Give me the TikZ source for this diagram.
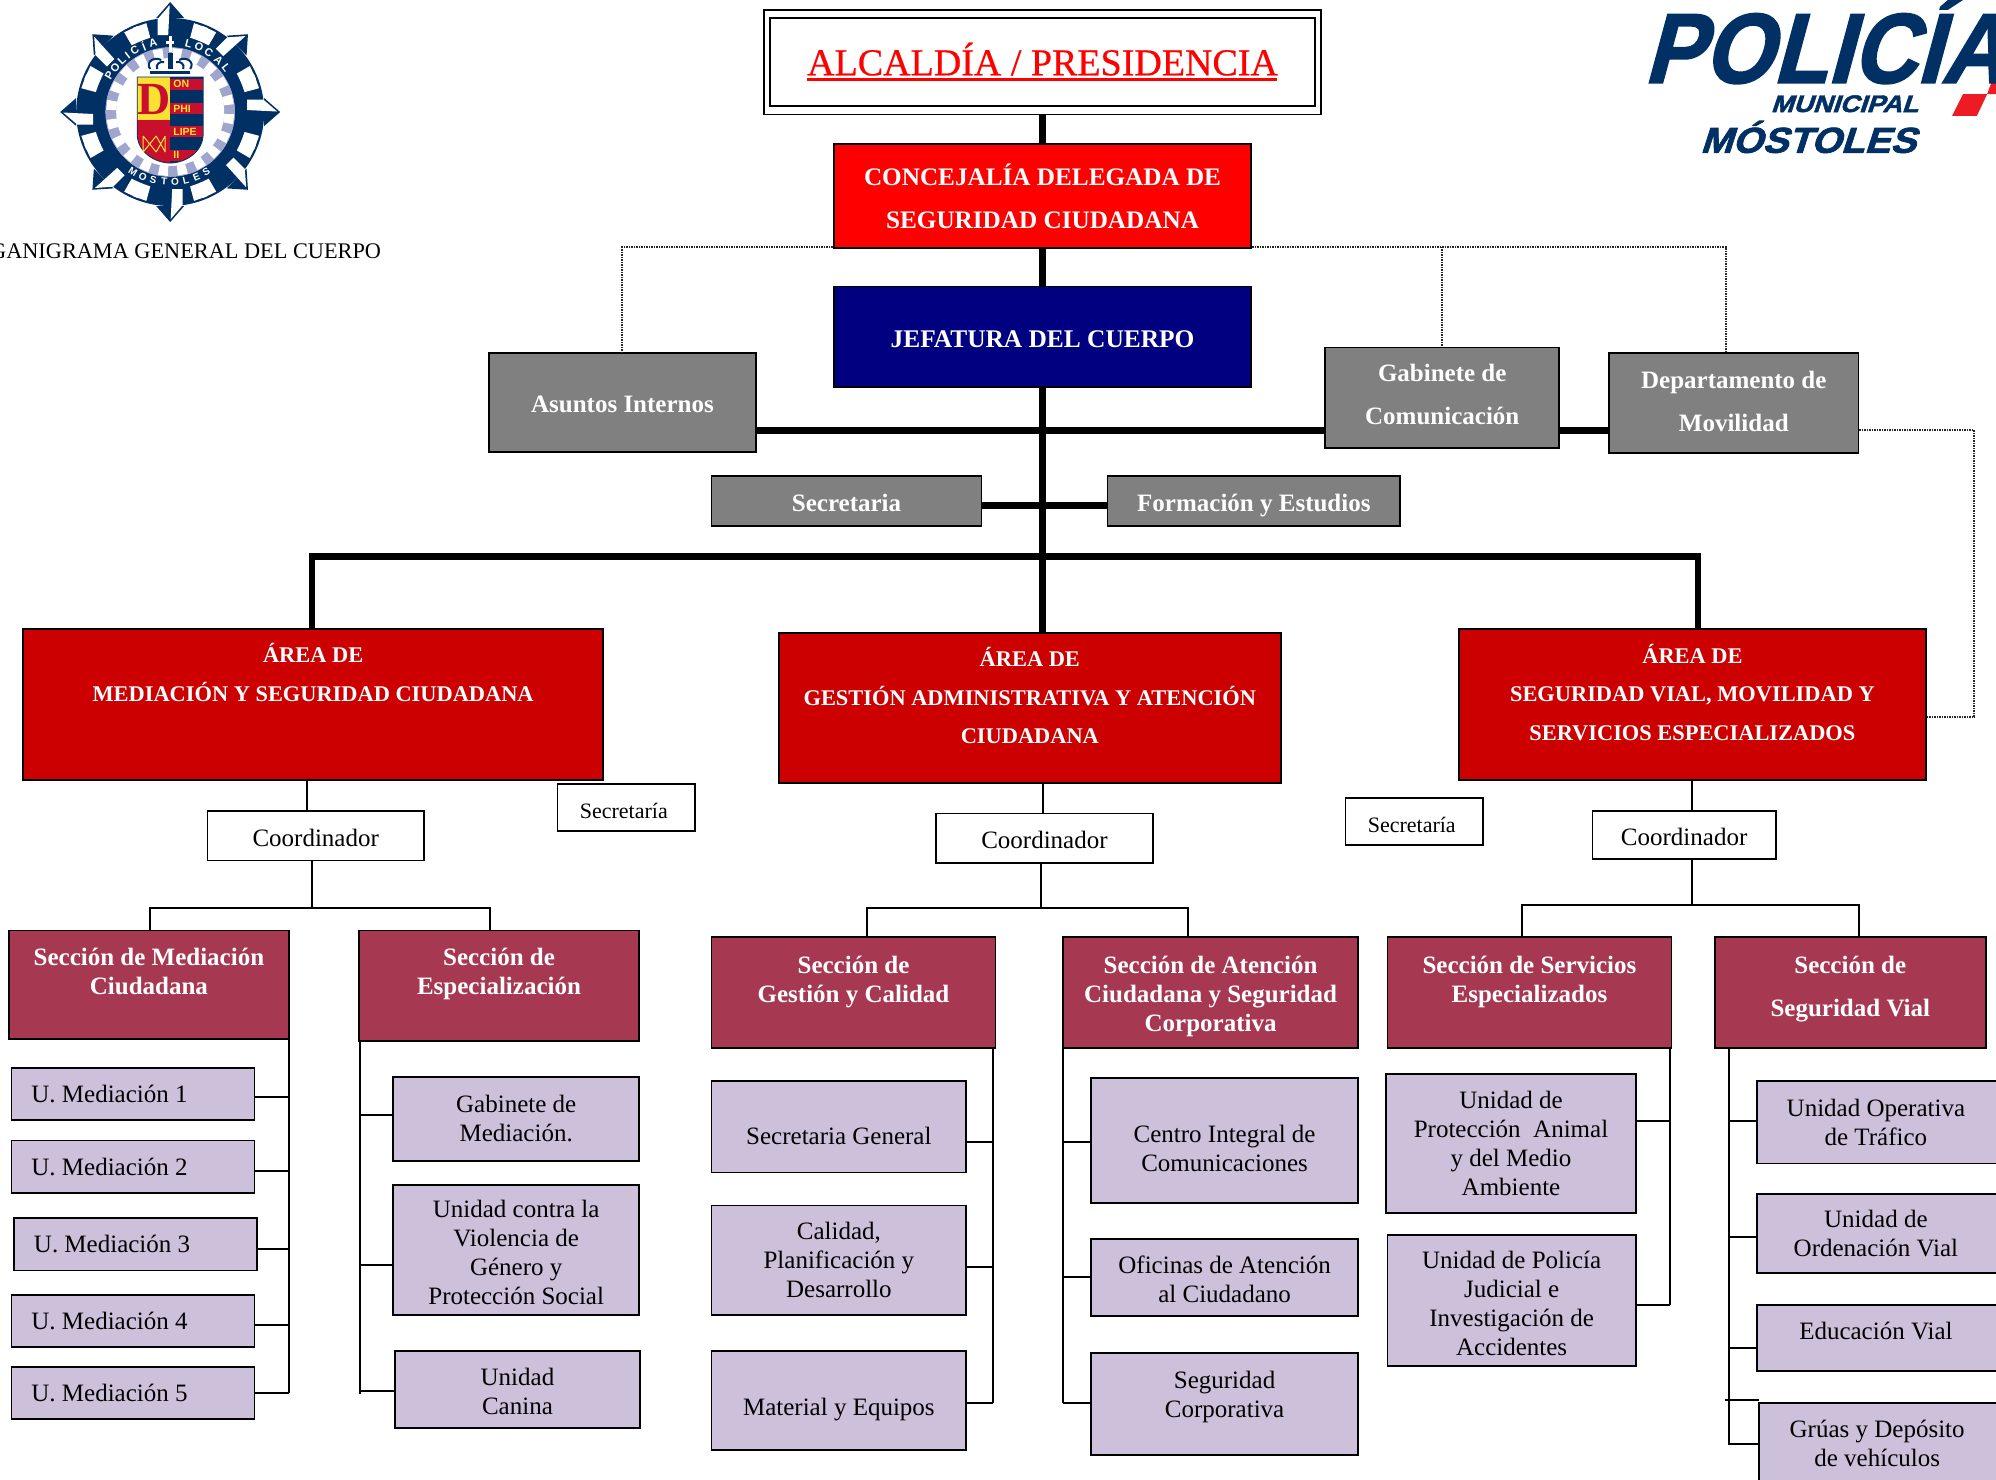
\documentclass[tikz,border=0pt]{standalone}
\usepackage{fontspec}
\setmainfont{Liberation Serif}
\newfontfamily\arialf{Liberation Sans}
\newfontfamily\polf[FakeSlant=0.3,FakeBold=2]{Liberation Sans}
\newfontfamily\alcf[FakeBold=0.6]{Liberation Serif}
\definecolor{navyL}{RGB}{0,48,100}
\definecolor{navyB}{RGB}{0,0,128}
\definecolor{redA}{RGB}{204,0,0}
\definecolor{redC}{RGB}{255,0,0}
\definecolor{greyB}{RGB}{128,128,128}
\definecolor{wineS}{RGB}{166,56,82}
\definecolor{lilacU}{RGB}{204,192,218}
\definecolor{ringL}{RGB}{160,165,205}
\definecolor{shRed}{RGB}{200,16,46}
\definecolor{shYel}{RGB}{250,225,50}
\definecolor{logoRed}{RGB}{237,28,36}
\tikzset{
 basebox/.style={draw=black,line width=1.8pt,align=center,inner sep=0pt},
 single/.style={text height=21pt,text depth=0pt},
 greybox/.style={basebox,fill=greyB,text=white,font=\fontsize{25}{43}\selectfont\bfseries},
 areabox/.style={basebox,fill=redA,text=white,font=\fontsize{22.4}{38.5}\selectfont\bfseries},
 whitebox/.style={basebox,single,fill=white,font=\fontsize{25}{30}\selectfont},
 secbox/.style={basebox,fill=wineS,text=white,font=\fontsize{25}{29}\selectfont\bfseries},
 unitbox/.style={basebox,fill=lilacU,font=\fontsize{25}{29}\selectfont},
 heavy/.style={line width=6.5pt,draw=black},
 thin line/.style={line width=2pt,draw=black},
 dots/.style={line width=2pt,draw=black!85,dash pattern=on 1.5pt off 1pt},
}
% \bx{name}{x0}{y0}{x1}{y1}{style}{text}
\newcommand{\bx}[7]{%
 \pgfmathsetmacro{\bxw}{(#4-#2)*1.273}%
 \pgfmathsetmacro{\bxh}{(#5-#3)*1.273}%
 \node[#6,minimum width=\bxw pt,minimum height=\bxh pt] (#1) at ({(#2+#4)/2},{(#3+#5)/2}) {#7};}
% text block moved vertically inside its box
\newcommand{\upt}[2]{\raisebox{#1pt}[0pt][0pt]{\makebox[0pt]{\parbox{22cm}{\centering #2}}}}
\begin{document}
\begin{tikzpicture}[x=1.27296pt,y=-1.27296pt]
\useasboundingbox (0,0) rectangle (1568,1162.6);
\clip (0,0) rectangle (1568,1162.6);
\fill[white] (0,0) rectangle (1568,1162.6);

% ---------- left emblem ----------
\begin{scope}[shift={(133.7,88)},x=1pt,y=-1pt]
 \fill[navyL] (0,0) circle (94);
 \foreach \a in {0,45,...,315}{
  \begin{scope}[rotate=\a]
   \fill[navyL] (94,14) -- (110,0) -- (94,-14) -- cycle;
   \fill[white] (77,-2) -- (107,-.5) -- (93,-12.5) -- (77,-12.5) -- cycle;
   \fill[white] (15:77) -- (15:92) -- (24:92) -- (24:77) -- cycle;
   \fill[white] (-24:77) -- (-24:92) -- (-15:92) -- (-15:77) -- cycle;
  \end{scope}}
 \fill[ringL] (0,0) circle (65);
 \foreach \a in {0,18,...,342}{\fill[white] (\a+2:54) -- (\a+2:64) -- (\a+11:64) -- (\a+11:54) -- cycle;}
 \fill[white] (0,0) circle (54);
 \fill[navyL,even odd rule] (0,0) circle (76) circle (65);
 \foreach \ch/\ang in {P/149,O/141,L/133,I/127,C/120,Í/112,A/104,L/75,O/66,C/57,A/47,L/38}{
  \node[text=white,font=\arialf\bfseries\fontsize{11}{11}\selectfont,rotate=\ang-90,inner sep=0pt] (txl\ang) at (-\ang:71) {\ch};}
 \foreach \ch/\ang in {M/238,O/247,S/256,T/265,O/274,L/283,E/292,S/301}{
  \node[text=white,font=\arialf\bfseries\fontsize{10}{10}\selectfont,rotate=\ang+90,inner sep=0pt] (txm\ang) at (-\ang:70) {\ch};}
 % cross
 \fill[white] (-1.5,-76) rectangle (1.5,-60);
 \fill[white] (-4,-71) rectangle (4,-68);
 % crown
 \draw[navyL,line width=2pt] (-20,-43) .. controls (-25,-50) and (-16,-56) .. (-9,-52);
 \draw[navyL,line width=2pt] (20,-43) .. controls (25,-50) and (16,-56) .. (9,-52);
 \draw[navyL,line width=2pt] (-13,-43) .. controls (-15,-48) and (-10,-51) .. (-6,-50);
 \draw[navyL,line width=2pt] (13,-43) .. controls (15,-48) and (10,-51) .. (6,-50);
 \fill[navyL] (-2.5,-59) rectangle (2.5,-43);
 \fill[navyL] (-20,-41) rectangle (20,-38);
 % shield
 \begin{scope}
  \path[clip] (-33,-35) -- (33,-35) -- (33,22) .. controls (33,40) and (15,51) .. (0,51) .. controls (-15,51) and (-33,40) .. (-33,22) -- cycle;
  \fill[shYel] (-33,-35) rectangle (0,8);
  \fill[shRed] (-33,8) rectangle (0,52);
  \fill[navyL] (0,-35) rectangle (33,52);
  \foreach \yy in {-33,-9,14,38}{\fill[shRed] (0,\yy) rectangle (33,\yy+11);}
 \end{scope}
 \draw[navyL,line width=.8pt] (-33,-35) -- (33,-35) -- (33,22) .. controls (33,40) and (15,51) .. (0,51) .. controls (-15,51) and (-33,40) .. (-33,22) -- cycle;
 \node[text=shRed,font=\fontsize{46}{46}\selectfont\bfseries,inner sep=0pt] (shD) at (-16.5,-13) {D};
 \draw[shYel,line width=1pt] (-27,24) -- (-14,40) (-27,40) -- (-14,24) (-14,24) -- (-5,40) (-14,40) -- (-5,24) (-27,24) -- (-27,40) (-5,24) -- (-5,40);
 \foreach \t/\yy/\i in {ON/-28/a,PHI/-3/b,LIPE/20/c,II/43/d}{
  \node[text=shYel,font=\arialf\bfseries\fontsize{10.5}{11}\selectfont,anchor=west,inner sep=0pt] (sh\i) at (3,\yy) {\t};}
\end{scope}
\node[anchor=east,inner sep=0pt,font=\fontsize{22.3}{25}\selectfont] (title) at (299.5,197.5) {GANIGRAMA GENERAL DEL CUERPO};

% ---------- right logo ----------
\fill[logoRed] (1533.5,91) -- (1542,74) -- (1561,74) -- (1553,91) -- cycle;
\fill[logoRed] (1561,74) -- (1568,55) -- (1568,74) -- cycle;
\node[anchor=base west,inner sep=0pt,text=navyL,font=\polf\bfseries\fontsize{99}{99}\selectfont] (polA) at (1291,65) {\scalebox{.9}[1]{POLICÍA}};
\node[anchor=base east,inner sep=0pt,text=navyL,font=\polf\bfseries\fontsize{24}{24}\selectfont] (polB) at (1507,88) {\scalebox{1.12}[1]{MUNICIPAL}};
\node[anchor=base east,inner sep=0pt,text=navyL,font=\polf\bfseries\fontsize{36}{36}\selectfont] (polC) at (1505,120) {\scalebox{1.07}[1]{MÓSTOLES}};

% ---------- top ---------- 
\bx{alc}{600}{8}{1038}{90}{basebox,fill=white}{}
\bx{alci}{605}{14}{1033}{83}{basebox,fill=white,font=\alcf\fontsize{38}{40}\selectfont,text=redC}{\rlap{\rule[-5.5pt]{470pt}{2.4pt}}ALCALDÍA / PRESIDENCIA}
\bx{conc}{655}{113}{983}{195}{basebox,fill=redC,text=white,font=\fontsize{25.2}{43}\selectfont\bfseries}{CONCEJALÍA DELEGADA DE\\SEGURIDAD CIUDADANA}
\bx{jef}{655}{225}{983}{304}{basebox,single,fill=navyB,text=white,font=\fontsize{25.4}{30}\selectfont\bfseries}{JEFATURA DEL CUERPO}
\bx{asun}{384}{277}{594}{355}{greybox,single}{Asuntos Internos}
\bx{gabc}{1041}{273}{1225}{352}{greybox}{\upt{-3.1}{Gabinete de\\Comunicación}}
\bx{dept}{1264}{277}{1460}{356}{greybox}{\upt{-4.5}{Departamento de\\Movilidad}}
\bx{secr}{559}{374}{771}{413}{greybox,single}{Secretaria}
\bx{form}{870}{374}{1100}{413}{greybox,single}{Formación y Estudios}

% ---------- areas ----------
\bx{ar1}{18}{494}{474}{613}{areabox}{\upt{27}{ÁREA DE\\MEDIACIÓN Y SEGURIDAD CIUDADANA}}
\bx{ar2}{612}{497}{1006}{615}{areabox}{\upt{7}{ÁREA DE\\GESTIÓN ADMINISTRATIVA Y ATENCIÓN\\CIUDADANA}}
\bx{ar3}{1146}{494}{1513}{613}{areabox}{\upt{7}{ÁREA DE\\SEGURIDAD VIAL, MOVILIDAD Y\\SERVICIOS ESPECIALIZADOS}}
\bx{sc1}{438}{616}{546}{653}{whitebox,font=\fontsize{22}{26}\selectfont}{\hspace*{-5pt}Secretaría}
\bx{sc2}{1057}{627}{1165}{664}{whitebox,font=\fontsize{22}{26}\selectfont}{\hspace*{-5pt}Secretaría}
\bx{co1}{163}{637}{333}{676}{whitebox}{Coordinador}
\bx{co2}{735}{639}{906}{678}{whitebox}{Coordinador}
\bx{co3}{1251}{637}{1395}{675}{whitebox}{Coordinador}

% ---------- sections ----------
\bx{s1}{7}{731}{227}{816}{secbox}{\upt{7}{Sección de Mediación\\Ciudadana}}
\bx{s2}{282}{731}{502}{818}{secbox}{\upt{5.6}{Sección de\\Especialización}}
\bx{s3}{559}{736}{782}{823}{secbox}{\upt{4.2}{Sección de\\Gestión y Calidad}}
\bx{s4}{835}{736}{1067}{823}{secbox}{\upt{-10}{Sección de Atención\\Ciudadana y Seguridad\\Corporativa}}
\bx{s5}{1090}{736}{1313}{823}{secbox}{\upt{4.2}{Sección de Servicios\\Especializados}}
\bx{s6}{1347}{736}{1560}{823}{secbox,font=\fontsize{25}{43}\selectfont\bfseries}{\upt{-3}{Sección de\\Seguridad Vial}}

% ---------- units ----------
\bx{m1}{9}{839}{200}{880}{unitbox,single,text height=17pt}{\hspace*{-47pt}U. Mediación 1}
\bx{m2}{9}{896}{200}{937}{unitbox,single,text height=17pt}{\hspace*{-47pt}U. Mediación 2}
\bx{m3}{11}{957}{202}{998}{unitbox,single,text height=17pt}{\hspace*{-47pt}U. Mediación 3}
\bx{m4}{9}{1017}{200}{1058}{unitbox,single,text height=17pt}{\hspace*{-47pt}U. Mediación 4}
\bx{m5}{9}{1074}{200}{1115}{unitbox,single,text height=17pt}{\hspace*{-47pt}U. Mediación 5}
\bx{gm}{309}{846}{502}{912}{unitbox}{Gabinete de\\Mediación.}
\bx{uv}{309}{931}{502}{1033}{unitbox}{\upt{-8.5}{Unidad contra la\\Violencia de\\Género y\\Protección Social}}
\bx{uc}{310}{1061}{503}{1122}{unitbox}{\upt{-8.6}{Unidad\\Canina}}
\bx{sg}{559}{849}{759}{921}{unitbox}{\upt{-16}{Secretaria General}}
\bx{cp}{559}{947}{759}{1033}{unitbox}{Calidad,\\Planificación y\\Desarrollo}
\bx{me}{559}{1061}{759}{1139}{unitbox}{\upt{-15}{Material y Equipos}}
\bx{ci}{857}{847}{1067}{945}{unitbox}{\upt{-14.3}{Centro Integral de\\Comunicaciones}}
\bx{oa}{857}{973}{1067}{1034}{unitbox}{\upt{-8.6}{Oficinas de Atención\\al Ciudadano}}
\bx{sc}{857}{1063}{1067}{1143}{unitbox}{\upt{1}{Seguridad\\Corporativa}}
\bx{pa}{1089}{844}{1285}{953}{unitbox}{Unidad de\\Protección~ Animal\\y del Medio\\Ambiente}
\bx{pj}{1090}{970}{1285}{1073}{unitbox}{\upt{-9}{Unidad de Policía\\Judicial e\\Investigación de\\Accidentes}}
\bx{ot}{1380}{849}{1572}{914}{unitbox}{\hspace*{-6pt}Unidad Operativa\\\hspace*{-6pt}de Tráfico}
\bx{ov}{1380}{938}{1572}{1000}{unitbox}{\hspace*{-6pt}Unidad de\\\hspace*{-6pt}Ordenación Vial}
\bx{ev}{1380}{1025}{1572}{1077}{unitbox}{\upt{.3}{\hspace*{-6pt}Educación Vial}}
\bx{gr}{1382}{1102}{1572}{1170}{unitbox}{\upt{-3.5}{\hspace*{-6pt}Grúas y Depósito\\\hspace*{-6pt}de vehículos}}

% ---------- connectors ----------
\coordinate (tA) at (819,338);
\coordinate (tB) at (819,397);
\coordinate (tC) at (819,437);
\coordinate (tD) at (819,497);
\coordinate (tL) at (245,437);
\coordinate (tR) at (1334,437);
\draw[heavy] (alc.south) -- (conc.north);
\draw[heavy] (conc.south) -- (jef.north);
\draw[heavy] (jef.south) -- (tD);
\draw[heavy] (asun.east |- tA) -- (gabc.west |- tA);
\draw[heavy] (gabc.east |- tA) -- (dept.west |- tA);
\draw[heavy] (secr.east |- tB) -- (form.west |- tB);
\draw[heavy,line cap=rect] (tL) -- (tR);
\draw[heavy] (tL) -- (tL |- ar1.north);
\draw[heavy] (tR) -- (tR |- ar3.north);

\coordinate (dL) at (489,194);
\coordinate (dC) at (1133,194);
\coordinate (dR) at (1356,194);
\coordinate (dE) at (1551,338);
\coordinate (dF) at (1551,563);
\draw[dots] (conc.west |- dL) -- (dL) -- (dL |- asun.north);
\draw[dots] (conc.east |- dC) -- (dR) -- (dR |- dept.north);
\draw[dots] (dC) -- (dC |- gabc.north);
\draw[dots] (dept.east |- dE) -- (dE) -- (dF) -- (ar3.east |- dF);

\draw[thin line] (241,613) -- (241,637);
\draw[thin line] (819,615) -- (819,639);
\draw[thin line] (1329,613) -- (1329,637);
\coordinate (h1) at (245,713);
\coordinate (h2) at (818,713);
\coordinate (h3) at (1329,711);
\draw[thin line] (h1 |- co1.south) -- (h1);
\draw[thin line] (h2 |- co2.south) -- (h2);
\draw[thin line] (h3 |- co3.south) -- (h3);
\coordinate (h1a) at (118,713); \coordinate (h1b) at (385,713);
\coordinate (h2a) at (681,713); \coordinate (h2b) at (933,713);
\coordinate (h3a) at (1196,711); \coordinate (h3b) at (1460,711);
\draw[thin line] (h1a |- s1.north) -- (h1a) -- (h1b) -- (h1b |- s2.north);
\draw[thin line] (h2a |- s3.north) -- (h2a) -- (h2b) -- (h2b |- s4.north);
\draw[thin line] (h3a |- s5.north) -- (h3a) -- (h3b) -- (h3b |- s6.north);

% side rails
\coordinate (r1) at (227,1094);
\draw[thin line] (r1 |- s1.south) -- (r1);
\foreach \n/\yy in {m1/862,m2/920,m3/981,m4/1041,m5/1094}{\draw[thin line] (\n.east |- 0,\yy) -- (227,\yy);}
\coordinate (r2) at (283,1095);
\draw[thin line] (r2 |- s2.south) -- (r2);
\foreach \n/\yy in {gm/876,uv/994,uc/1093}{\draw[thin line] (\n.west |- 0,\yy) -- (283,\yy);}
\coordinate (r3) at (780,1102);
\draw[thin line] (r3 |- s3.south) -- (r3);
\foreach \n/\yy in {sg/897,cp/995,me/1102}{\draw[thin line] (\n.east |- 0,\yy) -- (780,\yy);}
\coordinate (r4) at (835,1102);
\draw[thin line] (r4 |- s4.south) -- (r4);
\foreach \n/\yy in {ci/897,oa/1003,sc/1102}{\draw[thin line] (\n.west |- 0,\yy) -- (835,\yy);}
\coordinate (r5) at (1312,1025);
\draw[thin line] (r5 |- s5.south) -- (r5);
\foreach \n/\yy in {pa/881,pj/1025}{\draw[thin line] (\n.east |- 0,\yy) -- (1312,\yy);}
\coordinate (r6) at (1358,1135);
\draw[thin line] (r6 |- s6.south) -- (r6);
\foreach \n/\yy in {ot/881,ov/972,ev/1059,gr/1134}{\draw[thin line] (\n.west |- 0,\yy) -- (1358,\yy);}
\draw[thin line] (1355,1100) -- (1382,1100);
\end{tikzpicture}
\end{document}
